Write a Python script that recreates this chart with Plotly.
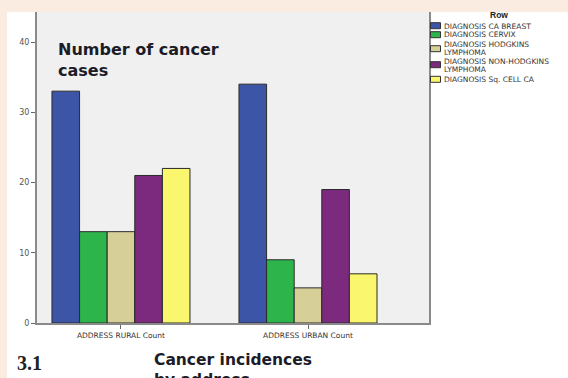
import plotly.graph_objects as go

# Counts by address and diagnosis
groups = ["ADDRESS RURAL Count", "ADDRESS URBAN Count"]
diagnoses = [
    "DIAGNOSIS CA BREAST",
    "DIAGNOSIS CERVIX",
    "DIAGNOSIS HODGKINS LYMPHOMA",
    "DIAGNOSIS NON-HODGKINS LYMPHOMA",
    "DIAGNOSIS Sq. CELL CA",
]
# how each legend label wraps
legend_lines = [
    ["DIAGNOSIS CA BREAST"],
    ["DIAGNOSIS CERVIX"],
    ["DIAGNOSIS HODGKINS", "LYMPHOMA"],
    ["DIAGNOSIS NON-HODGKINS", "LYMPHOMA"],
    ["DIAGNOSIS Sq. CELL CA"],
]
rural = [33, 13, 13, 21, 22]
urban = [34, 9, 5, 19, 7]
colors = ["#3D55A6", "#2DB44A", "#D6D098", "#7C2A7E", "#FAF76E"]
y_ticks = [0, 10, 20, 30, 40]

W, H = 568, 378
L, R, T, B = 37, 139, 12, 55
pw, ph = W - L - R, H - T - B


def px(x):
    return (x - L) / pw


def py(y):
    return (H - B - y) / ph


FONT = "Liberation Sans, Arial, sans-serif"
SMALL = "DejaVu Sans, Verdana, sans-serif"

fig = go.Figure()
for i, name in enumerate(diagnoses):
    fig.add_trace(go.Bar(
        x=groups,
        y=[rural[i], urban[i]],
        name=name,
        marker=dict(color=colors[i], line=dict(color="#2a2a2a", width=1)),
        showlegend=False,
    ))

shapes = [
    # white sheet over the peach page
    dict(type="rect", xref="paper", yref="paper", x0=px(7), x1=px(W + 5),
         y0=py(H + 5), y1=py(T), fillcolor="white", line=dict(width=0), layer="below"),
    # grey plot panel
    dict(type="rect", xref="paper", yref="paper", x0=0, x1=1, y0=0, y1=1,
         fillcolor="#F0F0F0", line=dict(width=0), layer="below"),
]

annotations = [
    dict(text="<b>Number of cancer<br>cases</b>", xref="paper", yref="paper",
         x=px(56), y=py(38), xanchor="left", yanchor="top", align="left",
         showarrow=False, font=dict(family=SMALL, size=16, color="#1c1c28")),
    dict(text="<b>3.1</b>", xref="paper", yref="paper", x=px(15), y=py(363),
         xanchor="left", yanchor="middle", showarrow=False,
         font=dict(family="Liberation Serif, Times New Roman, serif", size=20, color="#222")),
    dict(text="<b>Cancer incidences<br>by address.</b>", xref="paper", yref="paper",
         x=px(152), y=py(349), xanchor="left", yanchor="top", align="left",
         showarrow=False, font=dict(family=SMALL, size=15.5, color="#1c1c28")),
    dict(text="<b>Row</b>", xref="paper", yref="paper", x=px(499), y=py(15),
         xanchor="center", yanchor="middle", showarrow=False,
         font=dict(family=FONT, size=8.5, color="#222")),
]

# legend: swatch + label per diagnosis
swatch_y = [25.7, 34.7, 48.7, 64.7, 79.3]
text_y = [[26], [34.7], [44.3, 52.3], [61.8, 69.5], [79.3]]
for i, lines in enumerate(legend_lines):
    yc = swatch_y[i]
    shapes.append(dict(type="rect", xref="paper", yref="paper",
                       x0=px(430.5), x1=px(440.5), y0=py(yc + 3), y1=py(yc - 3),
                       fillcolor=colors[i], line=dict(color="#333", width=1)))
    for txt, ty in zip(lines, text_y[i]):
        annotations.append(dict(text=txt, xref="paper", yref="paper",
                                x=px(442), y=py(ty),
                                xanchor="left", yanchor="middle",
                                align="left", showarrow=False,
                                font=dict(family=SMALL, size=7.5, color="#333")))

fig.update_layout(
    width=W, height=H,
    margin=dict(l=L, r=R, t=T, b=B, pad=0),
    paper_bgcolor="#FBECE2",
    plot_bgcolor="rgba(0,0,0,0)",
    barmode="group",
    bargap=0.262,
    bargroupgap=0,
    shapes=shapes,
    annotations=annotations,
    xaxis=dict(
        range=[-0.449, 1.647],
        showline=True, linecolor="#8a8a8a", linewidth=2,
        ticks="outside", ticklen=4, tickcolor="#666", tickwidth=1,
        tickfont=dict(family=SMALL, size=7.5, color="#333"),
        showgrid=False, zeroline=False,
    ),
    yaxis=dict(
        range=[0, 44.27],
        tickvals=y_ticks,
        showline=True, linecolor="#8a8a8a", linewidth=2, mirror=True,
        ticks="outside", ticklen=4, tickcolor="#666", tickwidth=1,
        tickfont=dict(family=SMALL, size=8, color="#555"),
        showgrid=False, zeroline=False,
    ),
)

fig.write_html("out.html")
